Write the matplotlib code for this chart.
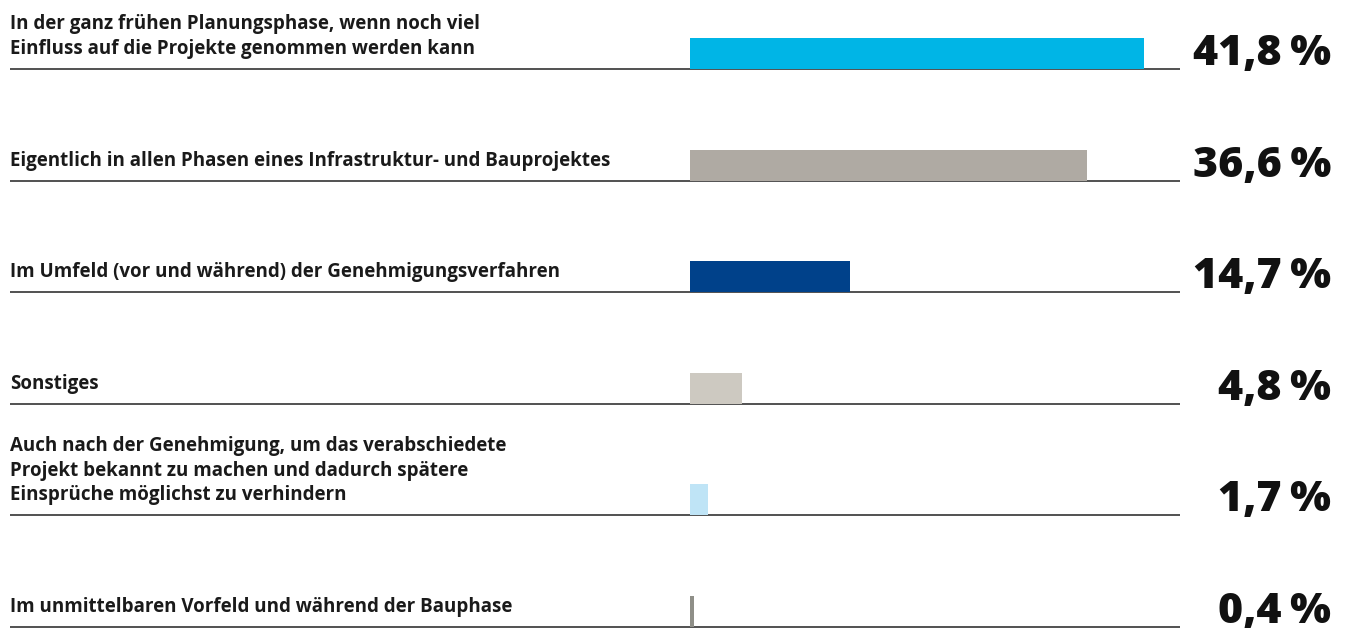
import matplotlib.pyplot as plt

# Daten
labels = [
    "In der ganz frühen Planungsphase, wenn noch viel\nEinfluss auf die Projekte genommen werden kann",
    "Eigentlich in allen Phasen eines Infrastruktur- und Bauprojektes",
    "Im Umfeld (vor und während) der Genehmigungsverfahren",
    "Sonstiges",
    "Auch nach der Genehmigung, um das verabschiedete\nProjekt bekannt zu machen und dadurch spätere\nEinsprüche möglichst zu verhindern",
    "Im unmittelbaren Vorfeld und während der Bauphase",
]
werte = [41.8, 36.6, 14.7, 4.8, 1.7, 0.4]
wert_txt = ["41,8\u2009%", "36,6\u2009%", "14,7\u2009%", "4,8\u2009%", "1,7\u2009%", "0,4\u2009%"]
farben = ["#00b5e6", "#afaaa3", "#00418a", "#cdc9c1", "#bfe4f6", "#8f8f88"]

W, H = 1349, 628
fig = plt.figure(figsize=(W / 100, H / 100), dpi=100)
ax = fig.add_axes([0, 0, 1, 1])

# Skalierung: Balken beginnen bei px 690, 10.86 px pro Prozent
x0 = 690
ppu = 10.86
ax.set_xlim(-x0 / ppu, (W - x0) / ppu)
row = 111.6
y0 = 69
ax.set_ylim((H - y0) / row, -y0 / row)
ax.axis("off")

bar_h = 31 / row
for i, (v, c) in enumerate(zip(werte, farben)):
    ax.barh(i, v, height=-bar_h, align="edge", color=c, zorder=2)
    ax.hlines(i, (10 - x0) / ppu, (1180 - x0) / ppu, color="#222222", lw=1.1, zorder=1)
    ax.text((10 - x0) / ppu, i - 15 / row, labels[i], ha="left", va="baseline",
            fontsize=13.5, fontweight="bold", family="Open Sans", color="#1a1a1a",
            linespacing=1.32)
    ax.text((1331 - x0) / ppu, i - 4 / row, wert_txt[i], ha="right", va="baseline",
            fontsize=31, fontweight="heavy", family="Open Sans", color="#111111")

fig.savefig("out.png", dpi=100)
